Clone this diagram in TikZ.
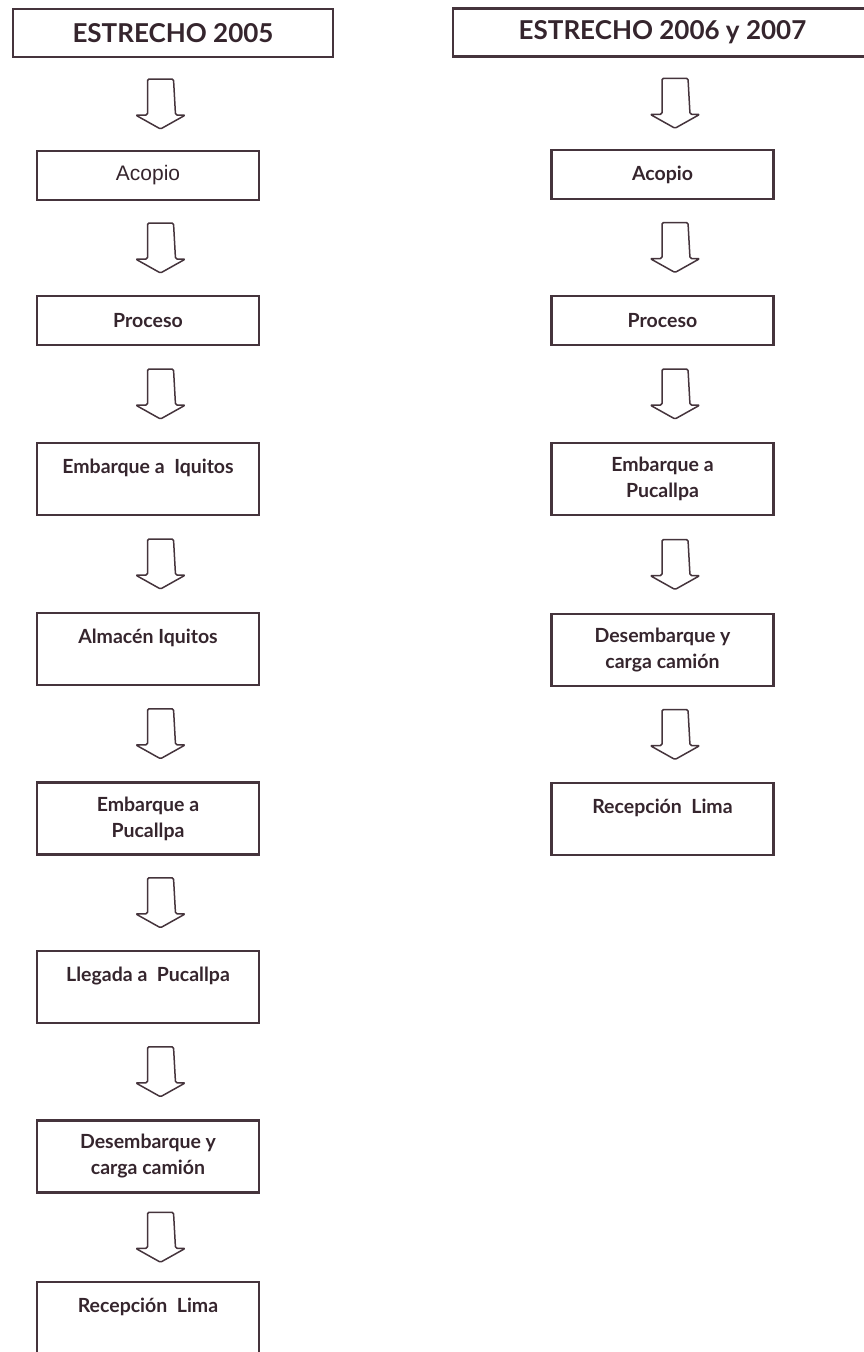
\documentclass[tikz,border=0pt]{standalone}
\usepackage{fontspec}
\setmainfont{Lato}
\newfontfamily\arialfont{Liberation Sans}
\usetikzlibrary{calc}
\definecolor{boxline}{HTML}{45343C}
\definecolor{inktext}{HTML}{35252D}

\begin{document}
\begin{tikzpicture}[
  x=1pt, y=-1pt,
  font=\fontsize{19.5}{26}\selectfont\bfseries,
  text=inktext,
  header/.style={
    rectangle, draw=boxline, line width=2.4pt, inner sep=0pt,
    minimum height=48pt, font=\fontsize{26}{28}\selectfont\bfseries
  },
  stepbox/.style={
    rectangle, draw=boxline, line width=2.4pt, inner sep=0pt,
    minimum width=222pt, minimum height=72pt, align=center
  },
  shortbox/.style={stepbox, minimum height=49pt},
  blockarrow/.style={
    draw=boxline, line width=1.5pt, rounded corners=1.5pt, line join=round
  },
]
\useasboundingbox (0,0) rectangle (863,1352);

% Headers
\node[header, minimum width=320pt] (hL) at (173,33)   {ESTRECHO 2005};
\node[header, minimum width=419pt] (hR) at (662.5,32.5) {ESTRECHO 2006 y 2007};

% Left column (2005)
\node[shortbox] (l1) at (148,175.5) {\arialfont\fontsize{21}{26}\selectfont\mdseries Acopio};
\node[shortbox] (l2) at (148,320.5) {Proceso};
\node[stepbox]  (l3) at (148,479)   {Embarque a\ \ Iquitos\\ \mbox{}};
\node[stepbox]  (l4) at (148,649)   {Almacén Iquitos\\ \mbox{}};
\node[stepbox]  (l5) at (148,818.5) {Embarque a\\ Pucallpa};
\node[stepbox]  (l6) at (148,987)   {Llegada a\ \ Pucallpa\\ \mbox{}};
\node[stepbox]  (l7) at (148,1156.5) {Desembarque y\\ carga camión};
\node[stepbox]  (l8) at (148,1318)  {Recepción\ \ Lima\\ \mbox{}};

% Right column (2006 y 2007)
\node[shortbox] (r1) at (662.5,174.5) {Acopio};
\node[shortbox] (r2) at (662.5,320.5) {Proceso};
\node[stepbox]  (r3) at (662.5,479)   {Embarque a\\ Pucallpa};
\node[stepbox]  (r4) at (662.5,650)   {Desembarque y\\ carga camión};
\node[stepbox]  (r5) at (662.5,819)   {Recepción\ \ Lima\\ \mbox{}};

% Block arrows between steps
\foreach \a/\b in {hL/l1, l1/l2, l2/l3, l3/l4, l4/l5, l5/l6, l6/l7, l7/l8,
                   hR/r1, r1/r2, r2/r3, r3/r4, r4/r5} {
  \coordinate (mid) at ($(\a.south)!0.5!(\b.north)$);
  \draw[blockarrow] ($(\b.north |- mid)+(12.5,0)$)
    ++(-13,11) -- ++(0,-36) -- ++(26,0) -- ++(2,36) -- ++(10,0)
    -- ++(-25,14) -- ++(-25,-14) -- cycle;
}

\end{tikzpicture}
\end{document}
